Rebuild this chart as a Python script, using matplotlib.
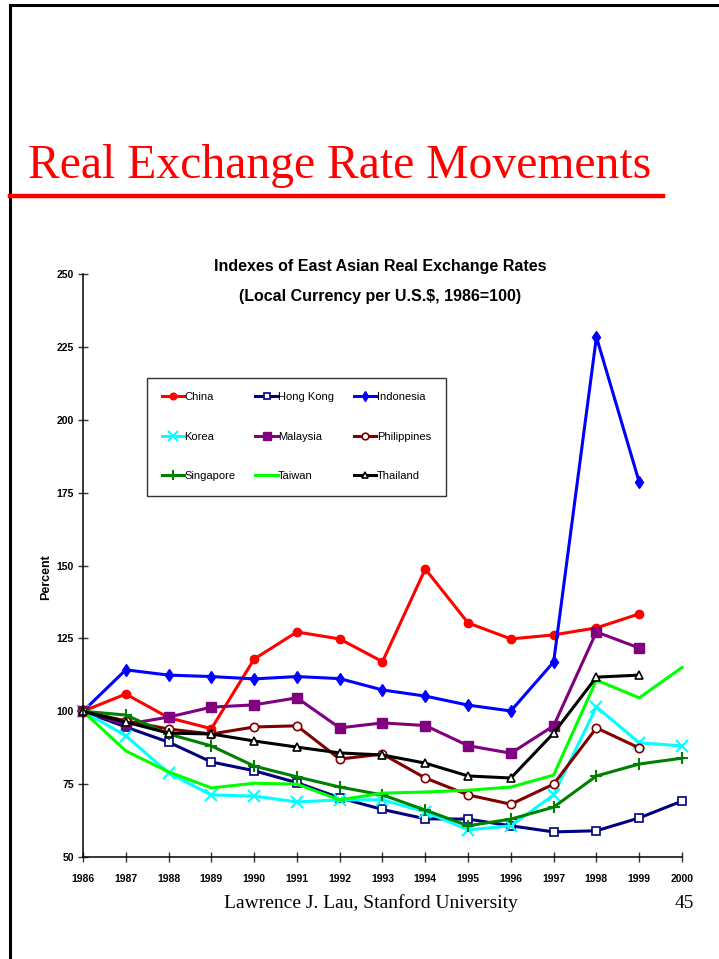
import matplotlib
matplotlib.use("Agg")
import matplotlib.pyplot as plt
from matplotlib.lines import Line2D

years = list(range(1986, 2001))

# index values (1986 = 100)
china = [100, 105.9, 97.8, 94.0, 117.9, 127.2, 124.8, 117.0, 148.8, 130.3, 124.8, 126.2, 128.6, 133.4]
hong_kong = [100, 94.6, 89.4, 82.6, 79.6, 75.5, 70.3, 66.3, 63.1, 63.0, 60.7, 58.6, 59.0, 63.4, 69.2]
indonesia = [100, 114.2, 112.4, 111.9, 111.1, 111.9, 111.2, 107.3, 105.2, 102.1, 100.1, 116.9, 228.4, 178.6]
korea = [100, 91.6, 78.8, 71.3, 70.9, 68.9, 69.6, 69.6, 65.5, 59.3, 60.7, 71.3, 101.5, 89.2, 88.1]
malaysia = [100, 95.5, 98.0, 101.4, 102.2, 104.6, 94.3, 96.0, 95.1, 88.2, 85.6, 95.0, 127.2, 121.7]
philippines = [100, 96.7, 93.9, 92.2, 94.6, 95.0, 83.6, 85.3, 77.1, 71.3, 68.1, 75.0, 94.3, 87.4]
singapore = [100, 98.7, 92.2, 88.1, 81.2, 77.5, 74.0, 71.3, 66.1, 60.7, 63.0, 67.1, 77.8, 81.9, 83.9]
taiwan = [100, 86.4, 79.2, 73.7, 75.3, 75.0, 69.6, 71.9, 72.3, 72.9, 74.0, 78.1, 110.7, 104.6, 115.0]
thailand = [100, 96.3, 92.5, 92.2, 89.8, 87.7, 85.7, 85.0, 82.2, 77.8, 77.1, 92.5, 111.7, 112.4]

y_ticks = [50, 75, 100, 125, 150, 175, 200, 225, 250]

sans = ["Liberation Sans", "DejaVu Sans"]
serif = ["Liberation Serif", "DejaVu Serif"]

W, H = 719, 959
fig = plt.figure(figsize=(W / 100, H / 100), dpi=100)
fig.patch.set_facecolor("white")

# slide frame (top and left edge)
fig.add_artist(Line2D([10 / W, 1.0], [1 - 5 / H, 1 - 5 / H], color="black", lw=2.2, transform=fig.transFigure))
fig.add_artist(Line2D([10 / W, 10 / W], [0, 1 - 5 / H], color="black", lw=2.2, transform=fig.transFigure))

# slide title + red rule
fig.text(340 / W, 1 - 166 / H, "Real Exchange Rate Movements", color="#FF0000",
         fontsize=34.3, family=serif, ha="center", va="center")
fig.add_artist(Line2D([10 / W, 663 / W], [1 - 196 / H, 1 - 196 / H], color="#FF0000", lw=3.2,
                      transform=fig.transFigure))

# chart title
fig.text(380 / W, 1 - 267 / H, "Indexes of East Asian Real Exchange Rates", fontsize=11.5,
         fontweight="bold", family=sans, ha="center", va="center")
fig.text(380 / W, 1 - 297 / H, "(Local Currency per U.S.$, 1986=100)", fontsize=11.5,
         fontweight="bold", family=sans, ha="center", va="center")

ax = fig.add_axes([83 / W, (H - 857) / H, 599 / W, 583 / H])

series = [
    ("China", china, dict(color="#FF0000", marker="o", ms=6, mfc="#FF0000", mec="#FF0000")),
    ("Hong Kong", hong_kong, dict(color="#000080", marker="s", ms=6, mfc="white", mec="#000080", mew=1.2)),
    ("Indonesia", indonesia, dict(color="#0000FF", marker="d", ms=6, mfc="#0000FF", mec="#0000FF")),
    ("Korea", korea, dict(color="#00FFFF", marker="x", ms=9, mew=1.5, mec="#00FFFF")),
    ("Malaysia", malaysia, dict(color="#800080", marker="s", ms=6.5, mfc="#800080", mec="#800080")),
    ("Philippines", philippines, dict(color="#800000", marker="o", ms=6, mfc="white", mec="#800000", mew=1.2)),
    ("Singapore", singapore, dict(color="#008000", marker="+", ms=9, mew=1.5, mec="#008000")),
    ("Taiwan", taiwan, dict(color="#00FF00")),
    ("Thailand", thailand, dict(color="black", marker="^", ms=6, mfc="white", mec="black", mew=1.2)),
]

handles = {}
for name, vals, style in series:
    h, = ax.plot(years[:len(vals)], vals, lw=2.2, label=name, clip_on=False, **style)
    handles[name] = h

ax.set_xlim(1986, 2000)
ax.set_ylim(50, 250)
ax.set_xticks(years)
ax.set_yticks(y_ticks)
for s in ["top", "right"]:
    ax.spines[s].set_visible(False)
for s in ["left", "bottom"]:
    ax.spines[s].set_linewidth(1.1)
ax.tick_params(axis="both", direction="inout", length=7, width=1, color="#333333")
ax.tick_params(axis="x", pad=9)
ax.tick_params(axis="y", pad=3)
for lbl in ax.get_xticklabels() + ax.get_yticklabels():
    lbl.set_fontfamily(sans)
    lbl.set_fontweight("bold")
    lbl.set_fontsize(7.5)

fig.text(46 / W, 1 - 577 / H, "Percent", rotation=90, fontsize=9, fontweight="bold",
         family=sans, ha="center", va="center")

# legend, filled row-wise like the original
order = ["China", "Korea", "Singapore", "Hong Kong", "Malaysia", "Taiwan",
         "Indonesia", "Philippines", "Thailand"]
leg = ax.legend([handles[n] for n in order], order, ncol=3, loc="upper left",
                bbox_to_anchor=(0.107, 0.822), borderaxespad=0, frameon=True, fancybox=False,
                edgecolor="black", handlelength=2.0, handletextpad=0.05,
                labelspacing=2.65, columnspacing=1.8, borderpad=1.3,
                prop={"family": sans, "size": 8}, markerscale=0.8)
leg.get_frame().set_linewidth(1.0)

# footer
fig.text(371 / W, 1 - 903 / H, "Lawrence J. Lau, Stanford University", fontsize=14,
         family=serif, ha="center", va="center")
fig.text(694 / W, 1 - 903 / H, "45", fontsize=14, family=serif, ha="right", va="center")

fig.savefig("out.png", dpi=100)
